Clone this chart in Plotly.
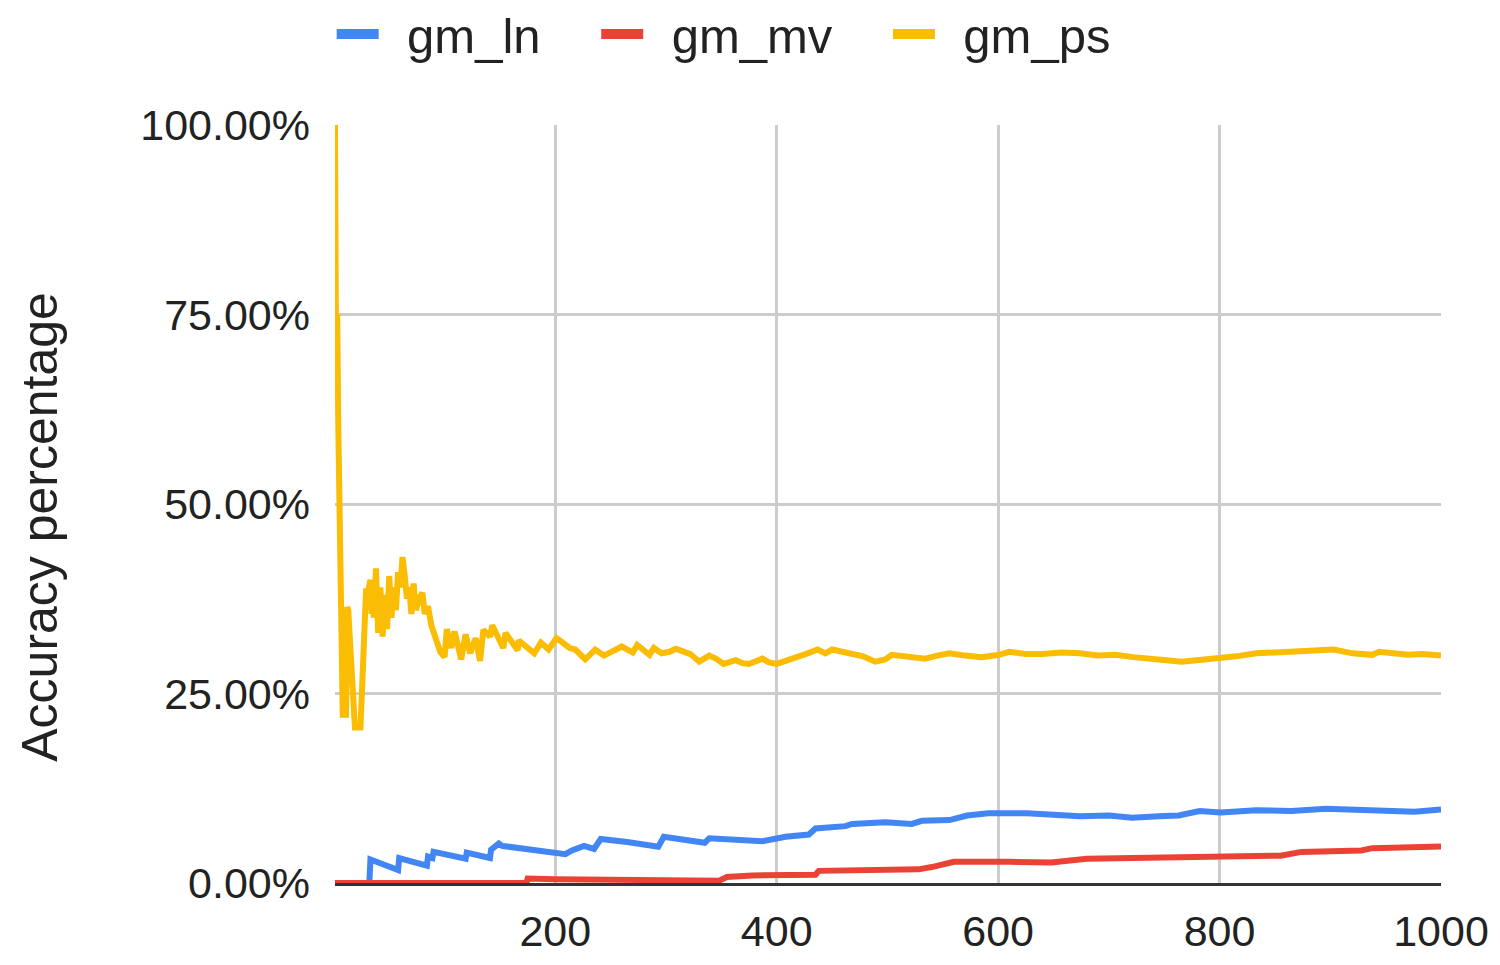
import plotly.graph_objects as go

# cumulative accuracy (%), per model
ln_x = [1, 32, 33, 58, 59, 84, 85, 89, 90, 119, 120, 141, 142, 146, 149, 152, 200, 209, 215,
        226, 235, 241, 265, 288, 293, 298, 320, 335, 339, 360, 387, 408, 429, 435, 450, 462,
        468, 498, 522, 531, 556, 572, 591, 626, 650, 674, 700, 721, 745, 763, 782, 801, 833,
        865, 896, 935, 976, 1000]
ln_y = [0, 0, 3.1, 1.7, 3.3, 2.3, 3.5, 3.3, 4.1, 3.2, 4.0, 3.3, 4.4, 4.8, 5.2, 4.9, 4.0, 3.8, 4.3,
        4.9, 4.5, 5.8, 5.4, 5.0, 4.8, 6.1, 5.7, 5.3, 5.9, 5.7, 5.5, 6.1, 6.4, 7.2, 7.3, 7.5,
        7.8, 8.0, 7.8, 8.2, 8.3, 8.9, 9.2, 9.2, 9.0, 8.8, 8.9, 8.6, 8.8, 8.9, 9.5, 9.3, 9.6,
        9.5, 9.8, 9.7, 9.4, 9.7]

mv_x = [1, 174, 175, 200, 348, 355, 378, 435, 438, 528, 540, 555, 560, 610, 648, 680, 737,
        801, 855, 874, 928, 938, 1000]
mv_y = [0, 0, 0.6, 0.5, 0.3, 0.8, 1.0, 1.1, 1.6, 1.8, 2.1, 2.5, 2.8, 2.8, 2.7, 3.2, 3.3,
        3.5, 3.6, 4.1, 4.3, 4.6, 4.8]

ps_x = [1, 2, 3, 4, 5, 6, 7, 8, 11, 12, 13, 14, 16, 18, 19, 22, 24, 25, 26, 27, 28, 29, 31,
        33, 34, 35, 36, 38, 40, 42, 44, 46, 48, 50, 52, 54, 56, 58, 60, 62, 64, 66, 68, 70,
        72, 74, 77, 80, 82, 85, 88, 92, 96, 100, 102, 106, 109, 115, 119, 123, 128, 132,
        135, 141, 143, 153, 155, 166, 167, 181, 187, 194, 201, 203, 213, 218, 227, 236, 244,
        252, 260, 270, 274, 285, 289, 296, 303, 309, 315, 322, 330, 339, 345, 352, 363, 369,
        375, 387, 393, 400, 408, 417, 426, 437, 444, 450, 459, 468, 478, 489, 498, 504, 515,
        525, 534, 545, 556, 570, 585, 601, 610, 625, 640, 657, 674, 690, 706, 722, 737, 752,
        766, 780, 795, 815, 833, 849, 865, 884, 903, 920, 938, 944, 957, 970, 983, 995, 1000]
ps_y = [100, 66.7, 75, 60, 50, 42.9, 33.3, 22.2, 22.2, 36.4, 36, 33.3, 29, 25, 20.5, 20.5,
        20.5, 24, 28, 29.6, 34, 38.5, 38.5, 40, 35.5, 40, 35, 41.5, 33, 39, 32.5, 38, 33.5,
        40.5, 35, 39, 36, 41, 39, 43, 40.5, 37.5, 39, 35.5, 39.5, 36, 37.5, 38.3, 35.5, 36.5,
        34, 32.5, 30.5, 29.8, 33.5, 31, 33.2, 29.5, 32.8, 30.3, 32.3, 29.3, 33.4, 32.5, 34,
        31, 33, 30.7, 32, 30.3, 31.7, 30.8, 32.3, 32.1, 31, 30.8, 29.5, 30.8, 30, 30.6, 31.2,
        30.4, 31.4, 30.1, 31, 30.3, 30.5, 30.9, 30.5, 30.2, 29.2, 30, 29.6, 28.9, 29.4, 29.0,
        28.9, 29.6, 29.1, 28.9, 29.3, 29.7, 30.2, 30.8, 30.3, 30.8, 30.5, 30.4, 29.9, 29.2,
        29.5, 30.1, 29.9, 29.6, 29.6, 30.0, 30.3, 30.0, 29.8, 30.1, 30.5, 30.2, 30.2, 30.4,
        30.3, 30.0, 30.1, 29.8, 29.5, 29.4, 29.2, 29.4, 29.5, 29.9, 30.3, 30.4, 30.5, 30.5,
        30.8, 30.3, 30.1, 30.5, 30.2, 30.1, 30.2, 30.1, 30.0]

names = ["gm_ln", "gm_mv", "gm_ps"]
colors = ["#4285F4", "#EA4335", "#FBBC04"]

y_ticks = [0, 25, 50, 75, 100]
y_labels = ["0.00%", "25.00%", "50.00%", "75.00%", "100.00%"]
x_ticks = [200, 400, 600, 800, 1000]

fig = go.Figure()
for xs, ys, name, c in zip([ln_x, mv_x, ps_x], [ln_y, mv_y, ps_y], names, colors):
    fig.add_trace(go.Scatter(x=xs, y=ys, mode="lines", name=name, showlegend=False,
                             line=dict(color=c, width=6)))
# legend entries with the thick swatch (nbsp to space the entries like the original)
nb = "\u00a0"
for name, c in zip(names, colors):
    fig.add_trace(go.Scatter(x=[None], y=[None], mode="lines",
                             name=nb + "\u2009" + name + nb * 3 + "\u2009",
                             line=dict(color=c, width=12)))

# page body has an 8px margin, so the figure is 16px smaller than the window
font = "Liberation Sans, Arial, sans-serif"
fig.update_layout(
    width=1484, height=949,
    margin=dict(l=327, r=51, t=117, b=74, autoexpand=False),
    paper_bgcolor="white", plot_bgcolor="white",
    font=dict(family=font, size=43, color="#222222"),
    legend=dict(orientation="h", x=-0.003, xanchor="left", y=1.12, yanchor="middle",
                font=dict(size=49, color="#222222"), itemwidth=42),
    annotations=[dict(text="Accuracy percentage", textangle=-90, xref="paper", yref="paper",
                      x=-0.2667, y=0.47, xanchor="center", yanchor="middle", showarrow=False,
                      font=dict(size=50, color="#222222"))],
)
fig.update_xaxes(range=[1, 1000], tickvals=x_ticks, showgrid=True, gridcolor="#cccccc",
                 gridwidth=3, zeroline=False, showline=True, linecolor="#333333", linewidth=3,
                 ticks="", ticklabelstandoff=8)
fig.update_yaxes(range=[0, 100], tickvals=y_ticks, ticktext=y_labels, showgrid=True,
                 gridcolor="#cccccc", gridwidth=3, zeroline=False, showline=False, ticks="",
                 ticklabelstandoff=24)

fig.write_html("out.html")
